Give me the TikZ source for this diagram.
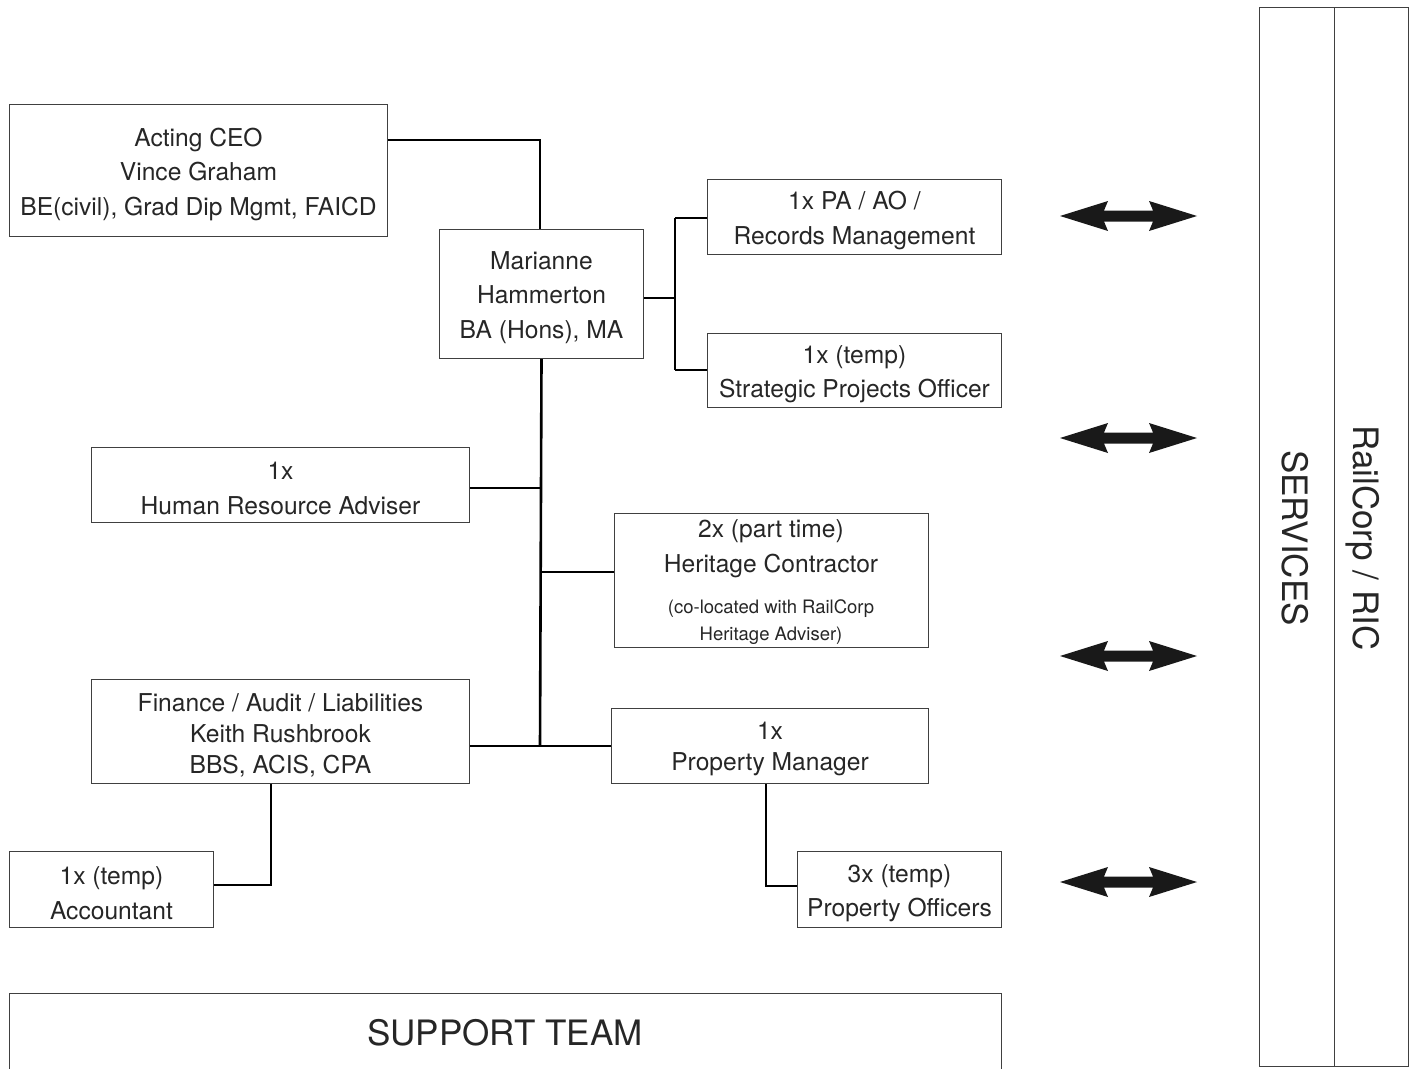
\documentclass[tikz,border=0pt]{standalone}
\usepackage{fontspec}
\setmainfont{TeX Gyre Heros}
\begin{document}
\begin{tikzpicture}[x=1pt,y=-1pt,
  box/.style={draw=black!75, line width=1pt, inner sep=0pt, anchor=north west},
  txt/.style={align=center, text=black!85, inner sep=0pt, font=\fontsize{24.6}{34.5}\selectfont},
  ftxt/.style={txt, font=\fontsize{24.6}{31}\selectfont},
  conn/.style={draw=black, line width=2.6pt},
  dbl/.style={fill=black!90, draw=none}]
\useasboundingbox (0,0) rectangle (1413,1068);
% boxes
\node[box, minimum width=378pt, minimum height=132pt] (ceo) at (9,104) {};
\node[txt] (ceot) at ([yshift=-3.5pt]ceo.center) {Acting CEO\\Vince Graham\\BE(civil), Grad Dip Mgmt, FAICD};
\node[box, minimum width=204pt, minimum height=129pt] (mh) at (439,229) {};
\node[txt] (mht) at ([yshift=-3.5pt]mh.center) {Marianne\\Hammerton\\BA (Hons), MA};
\node[box, minimum width=294pt, minimum height=75pt] (pa) at (707,179) {};
\node[txt] (pat) at ([yshift=-3.5pt]pa.center) {1x PA / AO /\\Records Management};
\node[box, minimum width=294pt, minimum height=74pt] (spo) at (707,333) {};
\node[txt] (spot) at ([yshift=-3.5pt]spo.center) {1x (temp)\\Strategic Projects Officer};
\node[box, minimum width=378pt, minimum height=75pt] (hr) at (91,447) {};
\node[txt] (hrt) at ([yshift=-3.5pt]hr.center) {1x\\Human Resource Adviser};
\node[box, minimum width=314pt, minimum height=134pt] (her) at (614,513) {};
\node[txt] (hert) at (771,548.5) {2x (part time)\\Heritage Contractor};
\node[txt, font=\fontsize{18.5}{27}\selectfont] (hers) at (771,622) {(co-located with RailCorp\\Heritage Adviser)};
\node[box, minimum width=378pt, minimum height=104pt] (fin) at (91,679) {};
\node[ftxt] (fint) at ([yshift=-3.5pt]fin.center) {Finance / Audit / Liabilities\\Keith Rushbrook\\BBS, ACIS, CPA};
\node[box, minimum width=317pt, minimum height=75pt] (pm) at (611,708) {};
\node[ftxt] (pmt) at ([yshift=-3pt]pm.center) {1x\\Property Manager};
\node[box, minimum width=204pt, minimum height=76pt] (acc) at (9,851) {};
\node[txt] (acct) at ([yshift=-3.5pt]acc.center) {1x (temp)\\Accountant};
\node[box, minimum width=204pt, minimum height=76pt] (po) at (797,851) {};
\node[txt] (pot) at ([yshift=-3.5pt]po.center) {3x (temp)\\Property Officers};
% support team (open at bottom)
\node[box, minimum width=992pt, minimum height=80pt] (st) at (9,993) {};
\node[txt, font=\fontsize{35}{40}\selectfont] (stt) at (505,1033) {SUPPORT TEAM};
% services / railcorp columns
\node[box, minimum width=75pt, minimum height=1059pt] (svc) at (1259,7) {};
\node[box, minimum width=74pt, minimum height=1059pt] (rc) at (1334,7) {};
\node[txt, rotate=-90, font=\fontsize{35}{40}\selectfont] (svct) at (1295,538) {SERVICES};
\node[txt, rotate=-90, font=\fontsize{35}{40}\selectfont] (rct) at (1363,538) {RailCorp / RIC};
% connectors
\draw[conn] (ceo.east |- 0,140) -- (540,140) -- (mh.north -| 540,0);
\draw[conn] (mh.south) -- (540,746);
\coordinate (br) at (675,298);
\draw[conn] (mh.east |- br) -- (br);
\draw[conn] (675,218) -- (675,370);
\draw[conn] (675,218) -- (pa.west |- 0,218);
\draw[conn] (675,370) -- (spo.west |- 0,370);
\draw[conn] (hr.east |- 0,488) -- (540,488);
\draw[conn] (540,572) -- (her.west |- 0,572);
\draw[conn] (fin.east |- 0,746) -- (pm.west |- 0,746);
\draw[conn] (fin.south -| 271,0) -- (271,885) -- (acc.east |- 0,885);
\draw[conn] (pm.south -| 766,0) -- (766,886) -- (po.west |- 0,886);
% double arrows
\foreach \cy in {216,438,656,882}{
  \fill[dbl] (1060,\cy) -- (1108,\cy-15) -- (1104,\cy-5.5) -- (1153,\cy-5.5) -- (1149,\cy-15) -- (1197,\cy)
    -- (1149,\cy+15) -- (1153,\cy+5.5) -- (1104,\cy+5.5) -- (1108,\cy+15) -- cycle;
}
\end{tikzpicture}
\end{document}
